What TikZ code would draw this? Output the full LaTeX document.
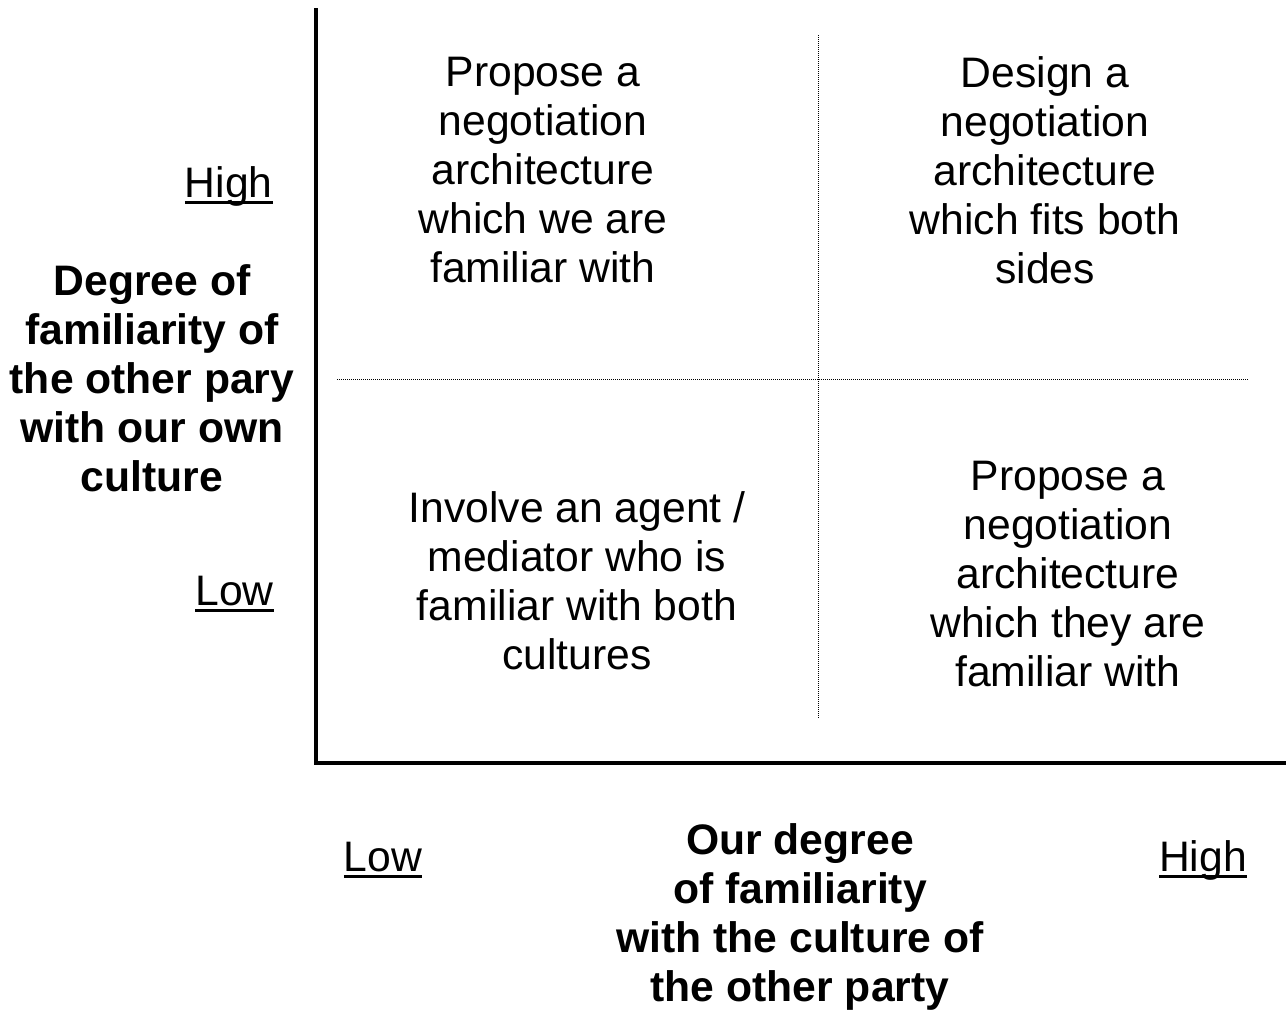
\documentclass[tikz,border=0pt]{standalone}
\usepackage{fontspec}
\setmainfont{Liberation Sans}
\newcommand\thickul[1]{\setbox0\hbox{#1}\leavevmode\rlap{\rule[-4.9pt]{\wd0}{2.25pt}}\box0}
\begin{document}
\begin{tikzpicture}[x=0.75pt,y=-0.75pt,
  txt/.style={font=\fontsize{32}{36.75}\selectfont, align=center, inner sep=0pt},
  boldtxt/.style={txt, font=\fontsize{32}{36.75}\selectfont\bfseries},
  axisline/.style={line width=3pt, line join=miter},
  gridline/.style={line width=0.75pt, dash pattern=on 0.75pt off 0.75pt}]
\useasboundingbox (0,0) rectangle (1286,1010);
% axes
\coordinate (ytop) at (316,8);
\coordinate (origin) at (316,763);
\coordinate (xend) at (1290,763);
\draw[axisline] (ytop) -- (origin) -- (xend);
% dotted grid
\coordinate (vt) at (818,35);
\coordinate (vb) at (818,718);
\coordinate (hl) at (337,379);
\coordinate (hr) at (1248,379);
\draw[gridline] (vt) -- (vb);
\draw[gridline] (hl) -- (hr);
% quadrant texts
\node[txt] (tl) at (543,170) {Propose a\\negotiation\\architecture\\which we are\\familiar with};
\node[txt] (tr) at (1045,170) {Design a\\negotiation\\architecture\\which fits both\\sides};
\node[txt] (bl) at (577,581) {Involve an agent /\\mediator who is\\familiar with both\\cultures};
\node[txt] (br) at (1068,574) {Propose a\\negotiation\\architecture\\which they are\\familiar with};
% vertical axis labels
\node[txt, anchor=base east] (yhigh) at (273,197) {\thickul{High}};
\node[txt, anchor=base east] (ylow) at (274,605) {\thickul{Low}};
\node[boldtxt] (ylabel) at (152,378) {Degree of\\familiarity of\\the other pary\\with our own\\culture};
% horizontal axis labels
\node[txt, anchor=base] (xlow) at (383,871) {\thickul{Low}};
\node[txt, anchor=base] (xhigh) at (1203,871) {\thickul{High}};
\node[boldtxt] (xlabel) at (800,917) {Our degree\\of familiarity\\with the culture of\\the other party};
\end{tikzpicture}
\end{document}
